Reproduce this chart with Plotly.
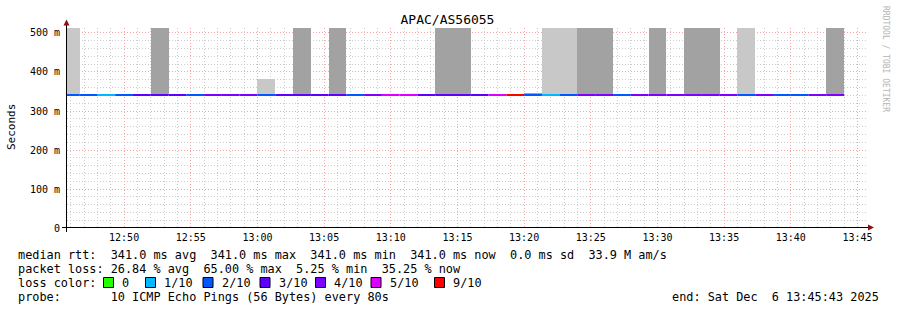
import plotly.graph_objects as go

# ---------------- data ----------------
step_start = [
    "2025-12-06 12:45:20", "2025-12-06 12:46:40", "2025-12-06 12:48:00", "2025-12-06 12:49:20",
    "2025-12-06 12:50:40", "2025-12-06 12:52:00", "2025-12-06 12:53:20", "2025-12-06 12:54:40",
    "2025-12-06 12:56:00", "2025-12-06 12:57:20", "2025-12-06 12:58:40", "2025-12-06 13:00:00",
    "2025-12-06 13:01:20", "2025-12-06 13:02:40", "2025-12-06 13:04:00", "2025-12-06 13:05:20",
    "2025-12-06 13:06:40", "2025-12-06 13:08:00", "2025-12-06 13:09:20", "2025-12-06 13:10:40",
    "2025-12-06 13:12:00", "2025-12-06 13:13:20", "2025-12-06 13:14:40", "2025-12-06 13:16:00",
    "2025-12-06 13:17:20", "2025-12-06 13:18:40", "2025-12-06 13:20:00", "2025-12-06 13:21:20",
    "2025-12-06 13:22:40", "2025-12-06 13:24:00", "2025-12-06 13:25:20", "2025-12-06 13:26:40",
    "2025-12-06 13:28:00", "2025-12-06 13:29:20", "2025-12-06 13:30:40", "2025-12-06 13:32:00",
    "2025-12-06 13:33:20", "2025-12-06 13:34:40", "2025-12-06 13:36:00", "2025-12-06 13:37:20",
    "2025-12-06 13:38:40", "2025-12-06 13:40:00", "2025-12-06 13:41:20", "2025-12-06 13:42:40",
]
last_step_end = "2025-12-06 13:44:00"
step_ms = 80000

median_rtt = [
    0.341, 0.341, 0.341, 0.341, 0.341, 0.341, 0.341, 0.341, 0.341, 0.341, 0.341,
    0.341, 0.341, 0.341, 0.341, 0.341, 0.341, 0.341, 0.341, 0.341, 0.341, 0.341,
    0.341, 0.341, 0.341, 0.341, 0.341, 0.341, 0.341, 0.341, 0.341, 0.341, 0.341,
    0.341, 0.341, 0.341, 0.341, 0.341, 0.341, 0.341, 0.341, 0.341, 0.341, 0.341,
]
# lost pings out of 10 per step
loss_tenths = [
    2, 2, 1, 2, 3, 3, 3, 2, 4, 4, 4,
    2, 3, 3, 3, 3, 2, 4, 5, 5, 3, 3,
    3, 3, 5, 9, 2, 1, 2, 4, 4, 2, 4,
    4, 4, 4, 4, 4, 2, 4, 2, 2, 4, 4,
]
# smoke (upper ping values) per step, None = no smoke
smoke_top = [
    0.513, None, None, None, None, 0.513, None, None, None, None, None,
    0.382, None, 0.513, None, 0.513, None, None, None, None, None, 0.513,
    0.513, None, None, None, 0.346, 0.513, 0.513, 0.513, 0.513, None, None,
    0.513, None, 0.513, 0.513, None, 0.513, None, None, None, None, 0.513,
]
smoke_shade = [
    "light", None, None, None, None, "dark", None, None, None, None, None,
    "light", None, "dark", None, "dark", None, None, None, None, None, "dark",
    "dark", None, None, None, "dark", "light", "light", "dark", "dark", None, None,
    "dark", None, "dark", "dark", None, "light", None, None, None, None, "dark",
]

loss_levels = [0, 1, 2, 3, 4, 5, 9]
loss_labels = ["0", "1/10", "2/10", "3/10", "4/10", "5/10", "9/10"]
loss_colors = ["#26ff00", "#00b8ff", "#0059ff", "#5e00ff", "#7e00ff", "#dd00ff", "#ff0000"]

y_tick_vals = [0, 0.1, 0.2, 0.3, 0.4, 0.5]
y_tick_text = ["0", "100 m", "200 m", "300 m", "400 m", "500 m"]

title_text = "APAC/AS56055"
rtt_stats = {"avg": "341.0 ms", "max": "341.0 ms", "min": "341.0 ms", "now": "341.0 ms",
             "sd": "0.0 ms", "amps": "33.9 M"}
loss_stats = {"avg": "26.84 %", "max": "65.00 %", "min": " 5.25 %", "now": "35.25 %"}
probe_text = "10 ICMP Echo Pings (56 Bytes) every 80s"
end_text = "end: Sat Dec  6 13:45:43 2025"
x_start = "2025-12-06 12:45:43"
x_end = "2025-12-06 13:45:43"
y_max = 0.5128

# ---------------- figure ----------------
MONO = "DejaVu Sans Mono"
L, R, T, B, W, H = 67, 30, 28, 82, 897, 310
PW, PH = W - L - R, H - T - B


def fx(px):
    return (px - L) / PW


def fy(py):
    return (T + PH - py) / PH


def nb(s):
    return s.replace(" ", "\u00a0")


fig = go.Figure()

step_end = step_start[1:] + [last_step_end]

# smoke bars
shade_colors = {"light": "#c8c8c8", "dark": "#a2a2a2"}
for shade, col in shade_colors.items():
    xs, ys, bs = [], [], []
    for s, top, sh, med in zip(step_start, smoke_top, smoke_shade, median_rtt):
        if sh == shade and top is not None:
            xs.append(s)
            ys.append(top - med)
            bs.append(med)
    fig.add_trace(go.Bar(x=xs, y=ys, base=bs, width=step_ms, offset=0,
                         marker=dict(color=col, line=dict(width=0)),
                         hoverinfo="skip"))

# median line coloured by loss
for lvl, col in zip(loss_levels, loss_colors):
    xs, ys = [], []
    for s, e, m, l in zip(step_start, step_end, median_rtt, loss_tenths):
        if l == lvl:
            xs += [s, e, None]
            ys += [m, m, None]
    if xs:
        fig.add_trace(go.Scatter(x=xs, y=ys, mode="lines",
                                 line=dict(color=col, width=2),
                                 hoverinfo="skip"))

shapes = []
ann = []

# axes lines and arrows
shapes.append(dict(type="line", xref="paper", yref="paper",
                   x0=fx(66.5), x1=fx(66.5), y0=fy(232), y1=fy(22),
                   line=dict(color="black", width=1)))
shapes.append(dict(type="line", xref="paper", yref="paper",
                   x0=fx(62), x1=fx(869), y0=fy(227.5), y1=fy(227.5),
                   line=dict(color="black", width=1)))
shapes.append(dict(type="path", xref="paper", yref="paper",
                   path=f"M {fx(63.5)} {fy(25.5)} L {fx(69.5)} {fy(25.5)} L {fx(66.5)} {fy(19.5)} Z",
                   fillcolor="#8b1010", line=dict(width=0)))
shapes.append(dict(type="path", xref="paper", yref="paper",
                   path=f"M {fx(868)} {fy(224.5)} L {fx(868)} {fy(230.5)} L {fx(874)} {fy(227.5)} Z",
                   fillcolor="#8b1010", line=dict(width=0)))

FS = 11.85
line1 = ("median rtt:  " + f"{rtt_stats['avg']} avg  {rtt_stats['max']} max  "
         f"{rtt_stats['min']} min  {rtt_stats['now']} now  {rtt_stats['sd']} sd  {rtt_stats['amps']} am/s")
line2 = ("packet loss: " + f"{loss_stats['avg']} avg  {loss_stats['max']} max "
         f"{loss_stats['min']} min  {loss_stats['now']} now")
line4 = "probe:       " + probe_text

for txt, py in [(line1, 254.6), (line2, 268.6), ("loss color:", 282.6), (line4, 297.0)]:
    ann.append(dict(text=nb(txt), xref="paper", yref="paper", x=fx(16), y=fy(py),
                    xanchor="left", yanchor="middle", showarrow=False,
                    font=dict(family=MONO, size=FS, color="black")))
ann.append(dict(text=nb(end_text), xref="paper", yref="paper", x=fx(881), y=fy(297.0),
                xanchor="right", yanchor="middle", showarrow=False,
                font=dict(family=MONO, size=FS, color="black")))

# loss colour legend
square_px = [103.5, 145.5, 203, 260, 315.5, 371, 434.5]
for sq, lab, col in zip(square_px, loss_labels, loss_colors):
    shapes.append(dict(type="rect", xref="paper", yref="paper",
                       x0=fx(sq), x1=fx(sq + 10), y0=fy(287.5), y1=fy(277.5),
                       fillcolor=col, line=dict(color="black", width=1)))
    ann.append(dict(text=nb(lab), xref="paper", yref="paper", x=fx(sq + 16.5), y=fy(282.6),
                    xanchor="left", yanchor="middle", showarrow=False,
                    font=dict(family=MONO, size=FS, color="black")))

# y-axis title
ann.append(dict(text="Seconds", xref="paper", yref="paper", x=fx(11), y=fy(127),
                xanchor="center", yanchor="middle", textangle=-90, showarrow=False,
                font=dict(family=MONO, size=11, color="black")))
# watermark
ann.append(dict(text=nb("RRDTOOL / TOBI OETIKER"), xref="paper", yref="paper",
                x=fx(886), y=fy(59), xanchor="center", yanchor="middle",
                textangle=90, showarrow=False,
                font=dict(family=MONO, size=8, color="#b4b4b4")))

fig.update_layout(
    width=W, height=H,
    margin=dict(l=L, r=R, t=T, b=B, pad=0),
    paper_bgcolor="white", plot_bgcolor="white",
    showlegend=False, barmode="overlay", bargap=0,
    title=dict(text=title_text, x=447.5 / W, xref="container", xanchor="center",
               y=1 - 19 / H, yref="container", yanchor="middle",
               font=dict(family=MONO, size=13, color="black")),
    shapes=shapes, annotations=ann,
    xaxis=dict(type="date", range=[x_start, x_end], tickformat="%H:%M",
               tick0="2025-12-06 12:50:00", dtick=300000,
               showgrid=True, gridcolor="#f4a4a4", gridwidth=1, griddash="1px,2px",
               minor=dict(tick0="2025-12-06 12:50:00", dtick=60000, showgrid=True,
                          gridcolor="#cccccc", gridwidth=1, griddash="1px,2px"),
               showline=False, zeroline=False, ticks="", ticklabelstandoff=2,
               tickfont=dict(family=MONO, size=10, color="black")),
    yaxis=dict(range=[0, y_max], tickvals=y_tick_vals, ticktext=y_tick_text,
               showgrid=True, gridcolor="#f4a4a4", gridwidth=1, griddash="1px,2px",
               minor=dict(tick0=0, dtick=0.02, showgrid=True,
                          gridcolor="#cccccc", gridwidth=1, griddash="1px,2px"),
               showline=False, zeroline=False, ticks="", ticklabelstandoff=6,
               tickfont=dict(family=MONO, size=10, color="black")),
)

fig.write_html("out.html")
